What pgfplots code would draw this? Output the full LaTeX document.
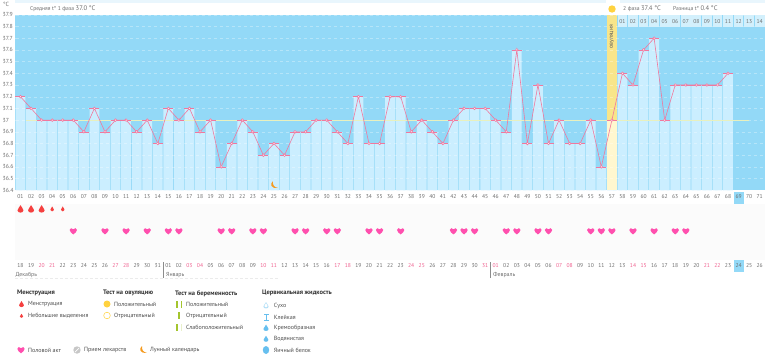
\documentclass[border=0pt]{standalone}
\usepackage{pgfplots}
\usepackage{pgfplotstable}
\usepackage{fontspec}
\setmainfont{PT Sans}
\pgfplotsset{compat=1.18}
\definecolor{deep}{HTML}{93D9F7}
\definecolor{lite}{HTML}{CBEEFF}
\definecolor{strip}{HTML}{E9F6FD}
\definecolor{cell}{HTML}{D3F0FC}
\definecolor{band}{HTML}{F8E58A}
\definecolor{paleband}{HTML}{FFF7CF}
\definecolor{tline}{HTML}{F0789E}
\definecolor{wk}{HTML}{F0608F}
\definecolor{hrtc}{HTML}{FF4FAE}
\definecolor{dropc}{HTML}{F5403F}
\definecolor{moonc}{HTML}{F59A1E}
\definecolor{txt}{HTML}{6E6E6E}
\definecolor{ltxt}{HTML}{4E4E4E}
\definecolor{bold}{HTML}{333333}
\definecolor{sun}{HTML}{FFD23F}
\definecolor{preg}{HTML}{A4C52E}
\definecolor{cerv}{HTML}{66BFEF}
\newcommand\W[1]{\textcolor{wk}{#1}}
\newcommand\fs[1]{\fontsize{#1}{#1}\selectfont}
\pgfdeclareplotmark{tmk}{%
  \pgfsetlinewidth{0.6pt}%
  \pgfpathmoveto{\pgfqpoint{-5pt}{0pt}}\pgfpathlineto{\pgfqpoint{5pt}{0pt}}\pgfusepathqstroke
  \pgfsetfillcolor{white}%
  \pgfpathcircle{\pgfpointorigin}{1.3pt}\pgfusepathqfillstroke}
\pgfdeclareplotmark{hrt}{%
  \pgfpathmoveto{\pgfqpoint{0pt}{-3.3pt}}%
  \pgfpathcurveto{\pgfqpoint{-1.5pt}{-2pt}}{\pgfqpoint{-3.7pt}{-0.6pt}}{\pgfqpoint{-3.7pt}{1.2pt}}%
  \pgfpathcurveto{\pgfqpoint{-3.7pt}{3.2pt}}{\pgfqpoint{-1pt}{3.6pt}}{\pgfqpoint{0pt}{1.8pt}}%
  \pgfpathcurveto{\pgfqpoint{1pt}{3.6pt}}{\pgfqpoint{3.7pt}{3.2pt}}{\pgfqpoint{3.7pt}{1.2pt}}%
  \pgfpathcurveto{\pgfqpoint{3.7pt}{-0.6pt}}{\pgfqpoint{1.5pt}{-2pt}}{\pgfqpoint{0pt}{-3.3pt}}%
  \pgfusepathqfill}
\pgfdeclareplotmark{bigdrop}{%
  \pgfpathmoveto{\pgfqpoint{0pt}{4pt}}%
  \pgfpathcurveto{\pgfqpoint{-1pt}{2pt}}{\pgfqpoint{-3pt}{0pt}}{\pgfqpoint{-3pt}{-1.2pt}}%
  \pgfpathcurveto{\pgfqpoint{-3pt}{-4.2pt}}{\pgfqpoint{3pt}{-4.2pt}}{\pgfqpoint{3pt}{-1.2pt}}%
  \pgfpathcurveto{\pgfqpoint{3pt}{0pt}}{\pgfqpoint{1pt}{2pt}}{\pgfqpoint{0pt}{4pt}}%
  \pgfusepathqfill}
\pgfdeclareplotmark{smalldrop}{%
  \pgfpathmoveto{\pgfqpoint{0pt}{2.7pt}}%
  \pgfpathcurveto{\pgfqpoint{-0.6pt}{1.4pt}}{\pgfqpoint{-1.8pt}{0pt}}{\pgfqpoint{-1.8pt}{-0.8pt}}%
  \pgfpathcurveto{\pgfqpoint{-1.8pt}{-2.8pt}}{\pgfqpoint{1.8pt}{-2.8pt}}{\pgfqpoint{1.8pt}{-0.8pt}}%
  \pgfpathcurveto{\pgfqpoint{1.8pt}{0pt}}{\pgfqpoint{0.6pt}{1.4pt}}{\pgfqpoint{0pt}{2.7pt}}%
  \pgfusepathqfill}
\pgfdeclareplotmark{moon}{%
  \pgfpathmoveto{\pgfqpoint{-1pt}{4pt}}%
  \pgfpathcurveto{\pgfqpoint{-4.5pt}{1.5pt}}{\pgfqpoint{-3pt}{-4pt}}{\pgfqpoint{3.8pt}{-2.6pt}}%
  \pgfpathcurveto{\pgfqpoint{0.5pt}{-2.4pt}}{\pgfqpoint{-1.6pt}{0pt}}{\pgfqpoint{-1pt}{4pt}}%
  \pgfusepathqfill}
\pgfplotstableread{
day temp
1 37.2
2 37.1
3 37.0
4 37.0
5 37.0
6 37.0
7 36.9
8 37.1
9 36.9
10 37.0
11 37.0
12 36.9
13 37.0
14 36.8
15 37.1
16 37.0
17 37.1
18 36.9
19 37.0
20 36.6
21 36.8
22 37.0
23 36.9
24 36.7
25 36.8
26 36.7
27 36.9
28 36.9
29 37.0
30 37.0
31 36.9
32 36.8
33 37.2
34 36.8
35 36.8
36 37.2
37 37.2
38 36.9
39 37.0
40 36.9
41 36.8
42 37.0
43 37.1
44 37.1
45 37.1
46 37.0
47 36.9
48 37.6
49 36.8
50 37.3
51 36.8
52 37.0
53 36.8
54 36.8
55 37.0
56 36.6
57 37.0
58 37.4
59 37.3
60 37.6
61 37.7
62 37.0
63 37.3
64 37.3
65 37.3
66 37.3
67 37.3
68 37.4
}\temps
\pgfplotstableread{
day y
6 36.051
9 36.051
11 36.051
13 36.051
15 36.051
16 36.051
20 36.051
21 36.051
23 36.051
24 36.051
27 36.051
28 36.051
30 36.051
31 36.051
34 36.051
35 36.051
37 36.051
42 36.051
43 36.051
44 36.051
47 36.051
48 36.051
50 36.051
51 36.051
55 36.051
56 36.051
57 36.051
59 36.051
61 36.051
63 36.051
64 36.051
}\hearts
\pgfplotsset{common/.style={
  scale only axis, width=749.5pt, height=175.5pt,
  at={(15.5pt,-190.3pt)}, anchor=south west,
  xmin=0.527, xmax=71.5, ymin=36.4, ymax=37.9,
  enlargelimits=false, major tick length=0pt,
  axis line style={draw=none}}}
\newcommand\dropicon[3]{\fill[#3] (#1,#2+4) .. controls (#1-1,#2+2) and (#1-3,#2) .. (#1-3,#2-1.2) .. controls (#1-3,#2-4.2) and (#1+3,#2-4.2) .. (#1+3,#2-1.2) .. controls (#1+3,#2) and (#1+1,#2+2) .. (#1,#2+4) -- cycle;}
\begin{document}
\begin{tikzpicture}
\path[use as bounding box, fill=white] (0,0) rectangle (770pt,-354pt);
\begin{scope}[x=1pt,y=-1pt]
\fill[strip] (15,0) rectangle (606,15);
\fill[strip] (620,0) rectangle (765,15);
\fill[white] (15,3) rectangle (606,15);
\fill[white] (620,3) rectangle (765,15);
\fill[sun] (612,9) circle (3.7);
\fill[black!1.5] (15,204) rectangle (765,260);
\draw[black!8,densely dashed,line width=0.4pt] (15,278) -- (278,278);
\fill[deep] (733.8,192) rectangle (744,203.5);
\fill[deep] (733.8,260) rectangle (744,271.5);
\end{scope}
\begin{axis}[common,
  axis background/.style={fill=deep},
  axis on top,
  ybar, bar width=9.8pt,
  ymajorgrids, grid style={white,opacity=0.32,dashed,line width=0.4pt},
  ytick={36.4,36.5,36.6,36.7,36.8,36.9,37,37.1,37.2,37.3,37.4,37.5,37.6,37.7,37.8,37.9},
  yticklabels={36.4,36.5,36.6,36.7,36.8,36.9,37,37.1,37.2,37.3,37.4,37.5,37.6,37.7,37.8,37.9},
  yticklabel style={font=\fs{5.8}, text=txt, anchor=west, xshift=-13pt, inner sep=0pt},
  xtick={1,...,71},
  xticklabels={01,02,03,04,05,06,07,08,09,10,11,12,13,14,15,16,17,18,19,20,21,22,23,24,25,26,27,28,29,30,31,32,33,34,35,36,37,38,39,40,41,42,43,44,45,46,47,48,49,50,51,52,53,54,55,56,57,58,59,60,61,62,63,64,65,66,67,68,69,70,71},
  xticklabel style={font=\fs{5.6}, text=txt, inner sep=0pt, yshift=-4.5pt},
]
\addplot[bar shift=0pt, fill=band, draw=none] coordinates {(57,37.9)};
\addplot[bar shift=0pt, fill=lite, draw=none] table[x=day,y=temp] {\temps};
\addplot[bar shift=0pt, fill=paleband, draw=none] coordinates {(57,37.0)};
\end{axis}
\begin{axis}[common, axis background/.style={},
  axis x line=bottom, axis y line=none,
  xtick={1,...,71},
  xticklabels={18,19,\W{20},\W{21},22,23,24,25,26,\W{27},\W{28},29,30,31,01,02,\W{03},\W{04},05,06,07,08,09,\W{10},\W{11},12,13,14,15,16,\W{17},\W{18},19,20,21,22,23,\W{24},\W{25},26,27,28,29,30,\W{31},\W{01},02,03,04,05,06,\W{07},\W{08},09,10,11,12,13,\W{14},\W{15},16,17,18,19,20,\W{21},\W{22},23,24,25,26},
  xticklabel style={font=\fs{5.6}, text=txt, inner sep=0pt, yshift=-73pt},
]
\addplot[draw=none, forget plot] coordinates {(1,37)};
\end{axis}
\begin{axis}[common, hide axis, clip=false]
\addplot[color={rgb,255:red,232;green,240;blue,190}, line width=0.9pt] coordinates {(1.52,37) (70,37)};
\addplot[tline, line width=0.6pt, mark=tmk, mark options={draw=tline,solid}] table[x=day,y=temp] {\temps};
\addplot[only marks, mark=hrt, mark options={fill=hrtc,draw=none}] table[x=day,y=y] {\hearts};
\addplot[only marks, mark=bigdrop, mark options={fill=dropc,draw=none}] coordinates {(1,36.239) (2,36.239) (3,36.239)};
\addplot[only marks, mark=smalldrop, mark options={fill=dropc,draw=none}] coordinates {(4,36.239) (5,36.239)};
\addplot[only marks, mark=moon, mark options={fill=moonc,draw=none}] coordinates {(25,36.444)};
\end{axis}
\begin{scope}[x=1pt,y=-1pt]
\node[font=\fs{6}, text=txt, anchor=west, inner sep=0pt] at (3,4.5) {°C};
\node[font=\fs{5.6}, text=txt, anchor=west, inner sep=0pt] at (30,8.6) {Средняя t° 1 фаза \fs{6.6}37.0 °C};
\node[font=\fs{5.6}, text=txt, anchor=west, inner sep=0pt] at (623,8.6) {2 фаза \fs{6.6}37.4 °C};
\node[font=\fs{5.6}, text=txt, anchor=west, inner sep=0pt] at (673,8.6) {Разница t° \fs{6.6}0.4 °C};
\node[font=\fs{5.8}, text=black!65, rotate=90, anchor=west, inner sep=0pt] at (612,48.5) {овуляция};
\foreach \n [count=\i from 58] in {01,02,03,04,05,06,07,08,09,10,11,12,13,14}{
  \pgfmathsetmacro\cx{20.5+10.56*(\i-1)}
  \fill[cell] (\cx-4.9,15.3) rectangle (\cx+4.9,26.5);
  \node[font=\fs{5.6}, text=txt, inner sep=0pt] at (\cx,21.6) {\n};
}
\node[font=\fs{5.8}, text=txt, anchor=west, inner sep=0pt] at (15.5,275) {Декабрь};
\node[font=\fs{5.8}, text=txt, anchor=west, inner sep=0pt] at (166,275) {Январь};
\node[font=\fs{5.8}, text=txt, anchor=west, inner sep=0pt] at (493,275) {Февраль};
\draw[black!45,line width=0.5pt] (163,262) -- (163,278);
\draw[black!45,line width=0.5pt] (490.7,262) -- (490.7,278);
\foreach \x/\t in {17/Менструация,103/Тест на овуляцию,175/Тест на беременность,262/Цервикальная жидкость}{
  \node[font=\fs{6.5}\bfseries, text=bold, anchor=west, inner sep=0pt] at (\x,293.3) {\t};
}
\foreach \x/\y/\t in {28/304/Менструация,28/316/Небольшие выделения,114/304/Положительный,114/315.5/Отрицательный,186/304/Положительный,186/315.5/Отрицательный,186/327/Слабоположительный,273.7/305.5/Сухо,273.7/317/Клейкая,273.7/328/Кремообразная,273.7/339/Водянистая,273.7/350/Яичный белок,28/350/Половой акт,84/350/Прием лекарств,150/350/Лунный календарь}{
  \node[font=\fs{6}, text=ltxt, anchor=west, inner sep=0pt] at (\x,\y) {\t};
}
\begin{scope}[shift={(21.5,304.3)},scale=0.8,y=1pt]\dropicon{0}{0}{dropc}\end{scope}
\begin{scope}[shift={(21.5,316)},scale=0.55,y=1pt]\dropicon{0}{0}{dropc}\end{scope}
\fill[sun] (107,304) circle (3.5);
\draw[sun,line width=0.5pt,fill=white] (107,315.5) circle (3.3);
\fill[preg] (176,300.5) rectangle (178.2,307.5);
\fill[preg] (180.5,300.5) rectangle (182,307.5);
\fill[preg] (178.3,312) rectangle (180,319);
\fill[preg] (176,323.5) rectangle (178.2,330.5);
\fill[preg!25] (180.5,323.5) rectangle (182,330.5);
\begin{scope}[shift={(266,305.5)},scale=0.85,y=1pt]\dropicon{0}{0}{cerv!50}\end{scope}
\begin{scope}[shift={(266,305.5)},scale=0.55,y=1pt]\dropicon{0}{0}{white}\end{scope}
\fill[cerv] (263.5,313.5) rectangle (268.5,314.5);
\fill[cerv] (265.5,314) rectangle (266.5,320.5);
\fill[cerv] (263.5,320) rectangle (268.5,321);
\begin{scope}[shift={(266,328)},scale=0.85,y=1pt]\dropicon{0}{0}{cerv}\end{scope}
\fill[white] (262,324) -- (264.6,326.5) -- (262,329) -- cycle;
\begin{scope}[shift={(266,339)},scale=0.8,y=1pt]\dropicon{0}{0}{cerv}\end{scope}
\fill[cerv] (266,350) ellipse (3.2 and 4);
\begin{scope}[shift={(21,350)},y=1pt]
  \fill[hrtc] (0,-3.3) .. controls (-1.5,-2) and (-3.7,-0.6) .. (-3.7,1.2) .. controls (-3.7,3.2) and (-1,3.6) .. (0,1.8) .. controls (1,3.6) and (3.7,3.2) .. (3.7,1.2) .. controls (3.7,-0.6) and (1.5,-2) .. (0,-3.3) -- cycle;
\end{scope}
\fill[black!22] (77,350) circle (3.7);
\draw[white,line width=0.7pt] (75,352) -- (79,348);
\begin{scope}[shift={(143,350)},y=1pt]
  \fill[moonc] (-1,4) .. controls (-4.5,1.5) and (-3,-4) .. (3.8,-2.6) .. controls (0.5,-2.4) and (-1.6,0) .. (-1,4) -- cycle;
\end{scope}
\end{scope}
\end{tikzpicture}
\end{document}
